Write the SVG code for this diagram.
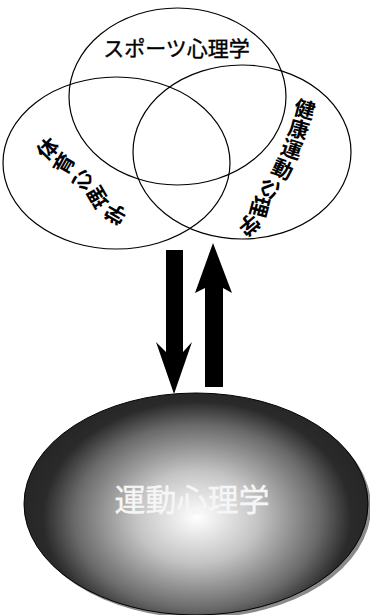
<svg xmlns="http://www.w3.org/2000/svg" width="370" height="615" viewBox="0 0 370 615">
<defs>
<style>
.venn{fill:none;stroke:#000;stroke-width:1.2}
.lbl{font-family:"Noto Sans CJK JP","Noto Sans",sans-serif;font-size:21px;font-weight:bold;fill:#000;text-anchor:middle;dominant-baseline:central}
.top{font-family:"Noto Sans CJK JP","Noto Sans",sans-serif;font-size:21px;fill:#000;text-anchor:middle;dominant-baseline:central;stroke:#000;stroke-width:0.4}
.big{font-family:"Noto Sans CJK JP","Noto Sans",sans-serif;font-size:31px;fill:#f6f6f6;text-anchor:middle;stroke:#f6f6f6;stroke-width:0.4}
.arrow{fill:#000}
</style>
<radialGradient id="g" cx="197" cy="517" r="175" gradientUnits="userSpaceOnUse" gradientTransform="translate(197 517) scale(1 0.75) translate(-197 -517)">
<stop offset="0" stop-color="#ffffff"/>
<stop offset="0.35" stop-color="#c4c4c4"/>
<stop offset="0.7" stop-color="#6a6a6a"/>
<stop offset="0.88" stop-color="#2a2a2a"/>
<stop offset="1" stop-color="#262626"/>
</radialGradient>
</defs>
<rect width="370" height="615" fill="#fff"/>
<g id="sports">
<ellipse class="venn" cx="177.5" cy="96.5" rx="108.5" ry="88.5"/>
<text class="top" x="176.5" y="47">スポーツ心理学</text>
</g>
<g id="taiiku">
<ellipse class="venn" cx="116.5" cy="163" rx="113.5" ry="86"/>
<text class="lbl" x="47" y="148" transform="rotate(-45 47 148)">体</text>
<text class="lbl" x="63" y="163" transform="rotate(-60 63 163)">育</text>
<text class="lbl" x="80" y="180" transform="rotate(-90 80 180)">心</text>
<text class="lbl" x="97" y="198" transform="rotate(-120 97 198)">理</text>
<text class="lbl" x="115" y="215" transform="rotate(-150 115 215)">学</text>
</g>
<g id="kenko">
<ellipse class="venn" cx="242" cy="152" rx="109" ry="87"/>
<text class="lbl" x="305" y="108" transform="rotate(15 305 108)">健</text>
<text class="lbl" x="299" y="128" transform="rotate(15 299 128)">康</text>
<text class="lbl" x="292" y="148" transform="rotate(18 292 148)">運</text>
<text class="lbl" x="283" y="168" transform="rotate(25 283 168)">動</text>
<text class="lbl" x="272" y="188" transform="rotate(70 272 188)">心</text>
<text class="lbl" x="261" y="207" transform="rotate(105 261 207)">理</text>
<text class="lbl" x="250" y="226" transform="rotate(140 250 226)">学</text>
</g>
<g id="undou">
<ellipse cx="199" cy="507" rx="172" ry="111" fill="#8a8a8a"/>
<ellipse cx="196" cy="504" rx="172" ry="111" fill="url(#g)" stroke="#000" stroke-width="1"/>
<text class="big" x="192" y="511">運動心理学</text>
</g>
<g id="connectors">
<path class="arrow" d="M166 250 H183 V352 L192 342 L174 394 L156 342 L166 352 Z"/>
<path class="arrow" d="M205 387 H223 V288 L232 293 L213 243 L195 293 L205 288 Z"/>
</g>
</svg>
